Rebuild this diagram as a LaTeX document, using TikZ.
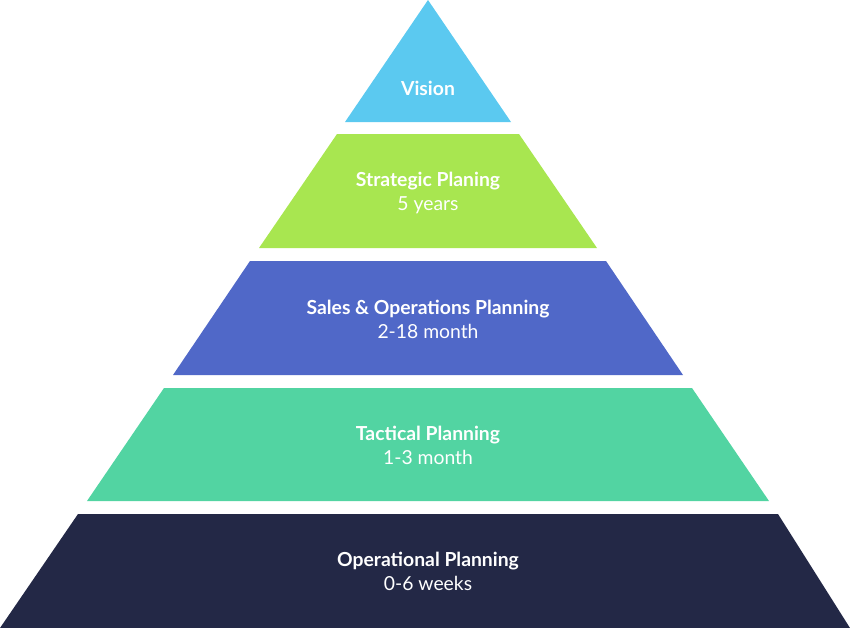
\documentclass[tikz,border=0pt]{standalone}
\usepackage{fontspec}
\setmainfont{Lato}
\tikzset{every picture/.style={line width=0.75pt}}
\tikzset{
  layertext/.style={text=white, align=center, font=\fontsize{14.5}{18}\selectfont},
}
\definecolor{visionblue}{RGB}{91,201,240}
\definecolor{stratgreen}{RGB}{168,230,80}
\definecolor{sopblue}{RGB}{80,104,200}
\definecolor{tactgreen}{RGB}{82,212,162}
\definecolor{opnavy}{RGB}{35,40,70}
\begin{document}
\begin{tikzpicture}[x=0.75pt,y=0.75pt,yscale=-1,xscale=1]
\useasboundingbox (0,0) rectangle (850,628);

%Shape: Triangle [Vision]
\fill [visionblue] (428,0) -- (511,122) -- (345,122) -- cycle ;
%Shape: Trapezoid [Strategic]
\fill [stratgreen] (337,134) -- (519,134) -- (597,248) -- (259,248) -- cycle ;
%Shape: Trapezoid [S&OP]
\fill [sopblue] (250,261) -- (606,261) -- (683,375) -- (173,375) -- cycle ;
%Shape: Trapezoid [Tactical]
\fill [tactgreen] (164,388) -- (692,388) -- (769,501) -- (87,501) -- cycle ;
%Shape: Trapezoid [Operational]
\fill [opnavy] (78,514) -- (778,514) -- (850,628) -- (0,628) -- cycle ;

% Text Node
\node [layertext] (vision) at (428,88) {\textbf{Vision}};
% Text Node
\node [layertext] (strategic) at (428,193) {\textbf{Strategic Planing}\\5 years};
% Text Node
\node [layertext] (sop) at (428,319) {\textbf{Sales \& Operations Planning}\\2-18 month};
% Text Node
\node [layertext] (tactical) at (428,445) {\textbf{Tactical Planning}\\1-3 month};
% Text Node
\node [layertext] (operational) at (428,571) {\textbf{Operational Planning}\\0-6 weeks};

\end{tikzpicture}
\end{document}
